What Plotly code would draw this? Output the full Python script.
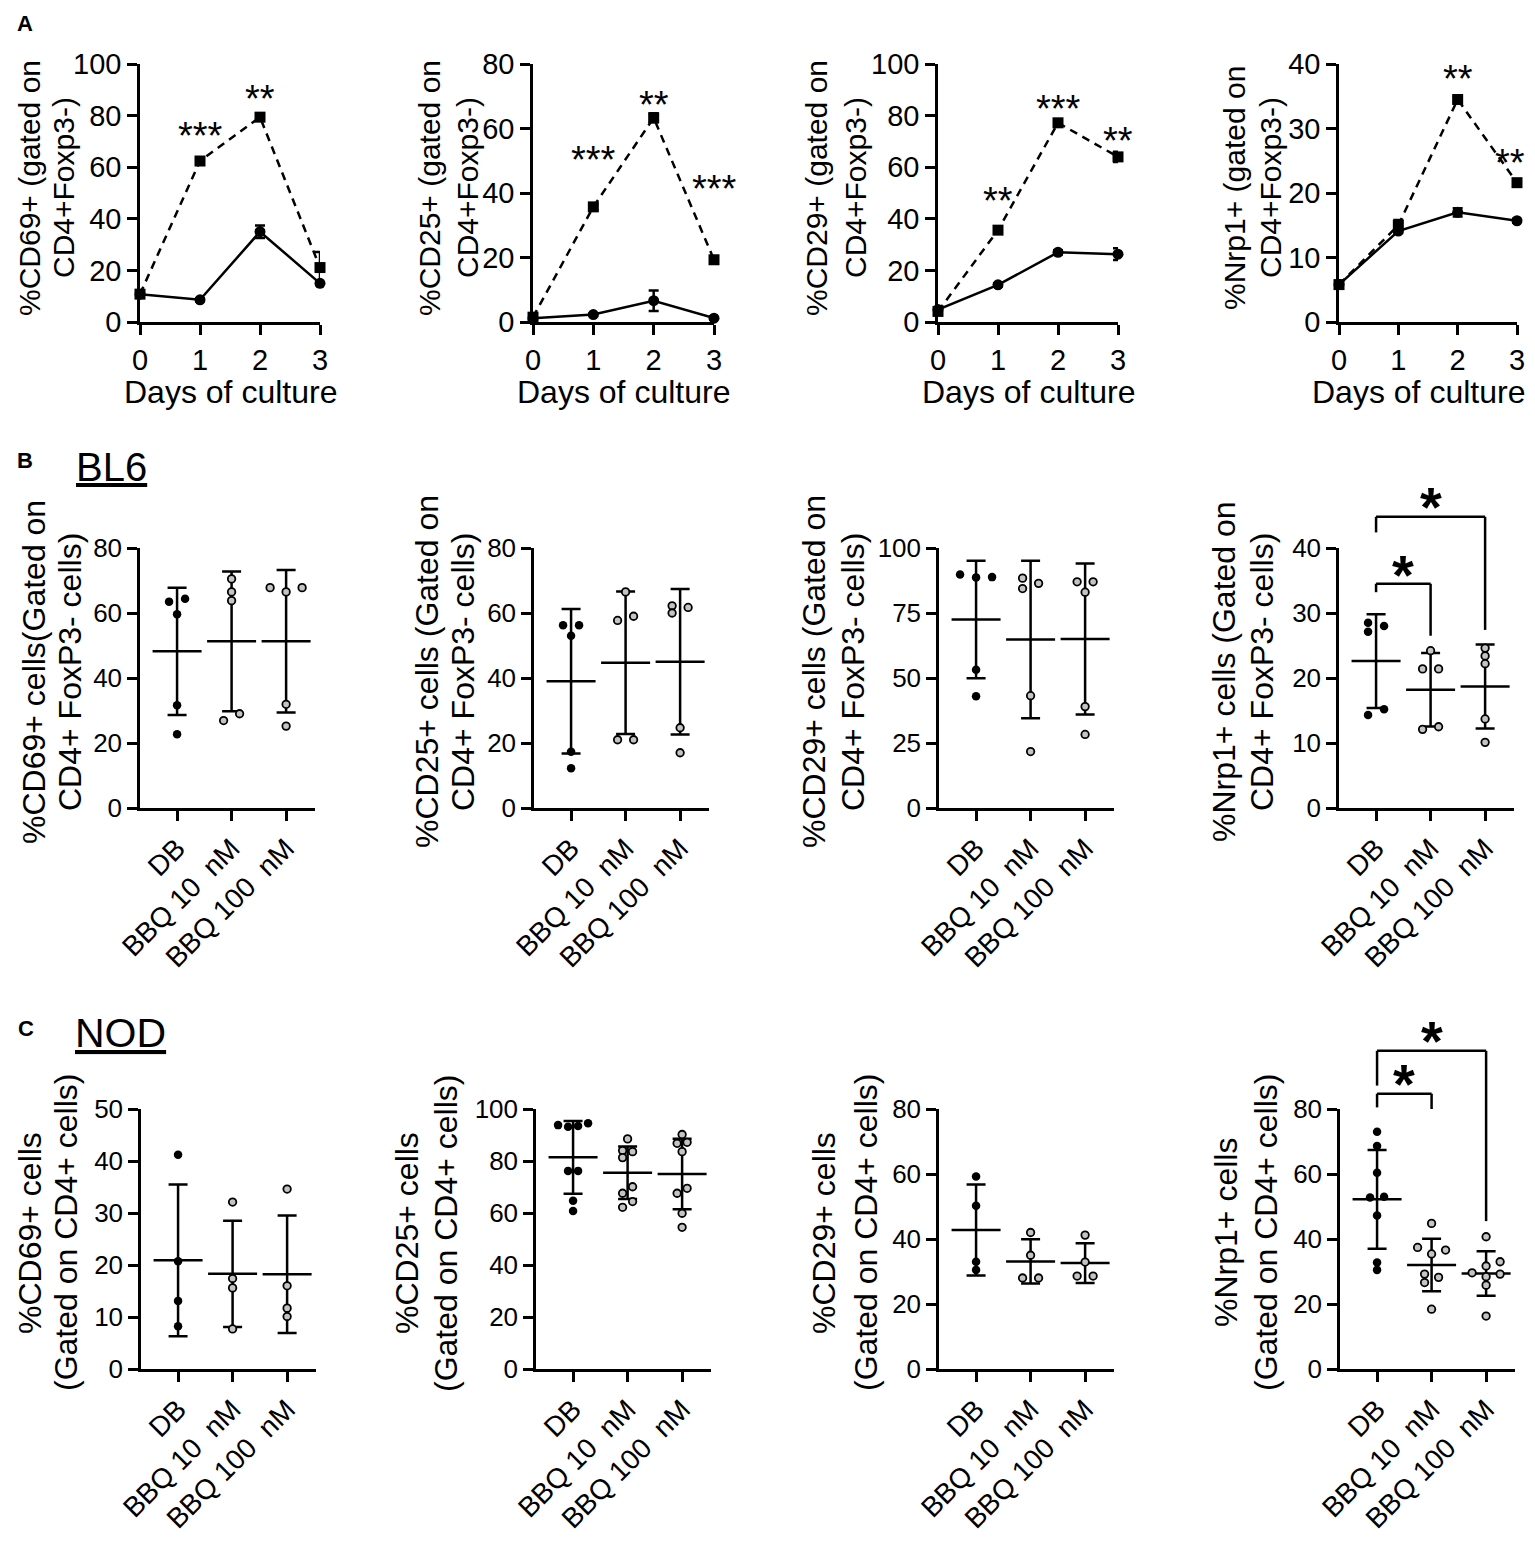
import plotly.graph_objects as go

# the page body keeps its default 8px margin, so the figure is sized to fit inside it
PAGE_W, PAGE_H, OFF = 1535, 1545, 8
W, H = PAGE_W - 2 * OFF, PAGE_H - 2 * OFF
RIGHT_LIMIT = PAGE_W - OFF - 2
FONT = "Liberation Sans, Arial, Helvetica, sans-serif"
INK = "black"

# ---------------- panel A: days of culture, mean +/- error ----------------
DAYS = [0, 1, 2, 3]

CD69_SOLID = [10.8, 8.6, 35.0, 15.0]
CD69_SOLID_ERR = [0.6, 0.6, 2.4, 0.8]
CD69_DASHED = [10.8, 62.4, 79.4, 21.1]
CD69_DASHED_ERR = [0.6, 0.9, 0.9, 6.0]
CD69_STARS = [(1, 75.5, "***"), (2, 90.0, "**")]

CD25_SOLID = [1.2, 2.3, 6.6, 1.2]
CD25_SOLID_ERR = [0.4, 0.4, 3.2, 0.4]
CD25_DASHED = [1.5, 35.7, 63.3, 19.3]
CD25_DASHED_ERR = [0.5, 1.0, 1.4, 0.8]
CD25_STARS = [(1, 53.0, "***"), (2, 70.0, "**"), (3, 44.0, "***")]

CD29_SOLID = [4.8, 14.4, 27.0, 26.3]
CD29_SOLID_ERR = [0.6, 0.6, 0.8, 2.3]
CD29_DASHED = [4.1, 35.6, 77.2, 64.0]
CD29_DASHED_ERR = [0.6, 1.2, 0.9, 2.0]
CD29_STARS = [(1, 50.5, "**"), (2, 86.0, "***"), (3, 73.6, "**")]

NRP1_SOLID = [5.8, 14.1, 17.0, 15.7]
NRP1_SOLID_ERR = [0.3, 0.3, 0.65, 0.3]
NRP1_DASHED = [5.8, 15.0, 34.5, 21.6]
NRP1_DASHED_ERR = [0.3, 0.8, 0.4, 0.3]
NRP1_STARS = [(2, 39.0, "**"), (3, 26.0, "**")]

A_TITLES = [
    ("%CD69+ (gated on", "CD4+Foxp3-)"),
    ("%CD25+ (gated on", "CD4+Foxp3-)"),
    ("%CD29+ (gated on", "CD4+Foxp3-)"),
    ("%Nrp1+ (gated on", "CD4+Foxp3-)"),
]
A_YMAX = [100, 80, 100, 40]
A_DTICK = [20, 20, 20, 10]

# ---------------- panels B (BL6) and C (NOD): scatter + mean +/- SD ----------------
GROUPS = ["DB", "BBQ 10\u00a0\u00a0nM", "BBQ 100\u00a0\u00a0nM"]

BL6_CD69 = [[64.4, 63.5, 59.6, 31.6, 22.7], [70.5, 66.5, 63.8, 29.0, 26.9], [67.8, 66.5, 67.8, 31.9, 25.2]]
BL6_CD69_MEAN = [48.2, 51.3, 51.3]
BL6_CD69_SD = [19.6, 21.5, 21.9]

BL6_CD25 = [[56.2, 56.2, 53.0, 17.3, 12.2], [66.5, 59.0, 57.7, 21.0, 21.0], [62.2, 61.7, 60.0, 24.7, 17.0]]
BL6_CD25_MEAN = [39.0, 44.7, 45.0]
BL6_CD25_SD = [22.2, 21.9, 22.4]

BL6_CD29 = [[89.8, 88.8, 88.7, 53.2, 43.0], [88.4, 86.4, 84.4, 43.2, 21.7], [87.0, 87.0, 83.0, 39.0, 28.3]]
BL6_CD29_MEAN = [72.5, 64.8, 65.0]
BL6_CD29_SD = [22.6, 30.3, 29.0]

BL6_NRP1 = [[28.5, 28.0, 27.1, 15.2, 14.3], [24.2, 21.4, 21.4, 12.5, 12.1], [24.6, 23.4, 22.2, 13.7, 10.1]]
BL6_NRP1_MEAN = [22.6, 18.2, 18.7]
BL6_NRP1_SD = [7.2, 5.65, 6.45]
# (group a, group b, bar height, leg end at a, leg end at b, star height)
BL6_NRP1_BRACKETS = [(0, 1, 34.5, 33.2, 26.5, 38.0), (0, 2, 44.8, 42.4, 27.4, 48.4)]

NOD_CD69 = [[41.2, 20.7, 13.1, 8.2], [32.1, 17.4, 15.6, 7.7], [34.6, 16.0, 11.7, 10.1]]
NOD_CD69_MEAN = [20.9, 18.3, 18.2]
NOD_CD69_SD = [14.6, 10.2, 11.3]

NOD_CD25 = [[94.5, 93.8, 93.5, 93.2, 76.2, 76.2, 64.7, 60.8],
            [88.5, 84.0, 83.6, 81.3, 70.1, 67.6, 64.4, 62.2],
            [90.2, 87.2, 86.8, 83.6, 69.5, 67.6, 59.9, 54.5]]
NOD_CD25_MEAN = [81.4, 75.5, 75.0]
NOD_CD25_SD = [14.0, 10.1, 13.6]

NOD_CD29 = [[59.2, 50.2, 33.0, 30.5], [42.0, 35.0, 28.0, 28.0], [41.2, 32.9, 28.6, 28.6]]
NOD_CD29_MEAN = [42.8, 33.1, 32.6]
NOD_CD29_SD = [14.0, 6.8, 6.1]

NOD_NRP1 = [[73.0, 68.6, 60.4, 53.0, 52.8, 47.2, 32.8, 30.5],
            [44.8, 37.4, 36.6, 35.4, 29.2, 28.2, 26.6, 18.4],
            [40.7, 33.0, 31.7, 29.6, 29.2, 28.4, 25.8, 16.3]]
NOD_NRP1_MEAN = [52.2, 32.0, 29.4]
NOD_NRP1_SD = [15.2, 8.1, 6.85]
NOD_NRP1_BRACKETS = [(0, 1, 84.7, 80.5, 80.0, 92.0), (0, 2, 97.9, 87.2, 45.5, 105.0)]

B_TITLES = [
    ("%CD69+ cells(Gated on", "CD4+ FoxP3- cells)"),
    ("%CD25+ cells (Gated on", "CD4+ FoxP3- cells)"),
    ("%CD29+ cells (Gated on", "CD4+ FoxP3- cells)"),
    ("%Nrp1+ cells (Gated on", "CD4+ FoxP3- cells)"),
]
C_TITLES = [
    ("%CD69+ cells", "(Gated on CD4+ cells)"),
    ("%CD25+ cells", "(Gated on CD4+ cells)"),
    ("%CD29+ cells", "(Gated on CD4+ cells)"),
    ("%Nrp1+ cells", "(Gated on CD4+ cells)"),
]
B_YMAX = [80, 80, 100, 40]
B_DTICK = [20, 20, 25, 10]
C_YMAX = [50, 100, 80, 80]
C_DTICK = [10, 20, 20, 20]

# ---------------- page geometry (pixels on the page) ----------------
A_X = [(140, 320), (533, 714), (938, 1118), (1339, 1517)]
A_Y = (64, 322)
A_TITLE_X = [(29, 63), (429, 467), (816, 855), (1234, 1270)]
A_TITLE_Y = 188
B_X = [(140, 315), (534, 709), (939, 1114), (1339, 1514)]
B_Y = (548, 808)
B_TITLE_X = [(34, 70), (427, 463), (814, 853), (1224, 1262)]
B_TITLE_Y = 672
C_X = [(141, 316), (536, 711), (939, 1114), (1340, 1515)]
C_Y = (1109, 1369)
C_TITLE_X = [(30, 66), (407, 446), (824, 866), (1226, 1266)]
C_TITLE_Y = 1233
CAT_RANGE = [-0.68, 2.53]
B_STEP = [16, 16, 16, 16]
C_STEP = [16, 10, 16, 14]


def fx(px):
    return (px - OFF) / W


def fy(py):
    return 1 - (py - OFF) / H


def axid(n):
    return "" if n == 1 else str(n)


def keep_inside(center_px, width_px):
    """Horizontal shift that keeps a centred text inside the visible page."""
    return min(0.0, RIGHT_LIMIT - (center_px + width_px / 2))


def axis_style(size):
    return dict(showline=True, linecolor=INK, linewidth=2.5, ticks="outside", ticklen=10,
                tickwidth=2.5, tickcolor=INK, showgrid=False, zeroline=False, fixedrange=True,
                automargin=False, tickfont=dict(family=FONT, size=size, color=INK))


def spread(values, px_per_unit, near=7.0):
    """GraphPad-like horizontal spreading of overlapping points, in steps."""
    order = sorted(range(len(values)), key=lambda i: values[i])
    slot = {}
    cands = [0]
    for j in range(1, 8):
        cands += [j, -j]
    for i in order:
        for c in cands:
            clash = False
            for j, cj in slot.items():
                dy = (values[i] - values[j]) * px_per_unit
                if cj == c and abs(dy) < near:
                    clash = True
                    break
            if not clash:
                slot[i] = c
                break
    groups, cur = [], [order[0]]
    for a, b in zip(order, order[1:]):
        if (values[b] - values[a]) * px_per_unit < near:
            cur.append(b)
        else:
            groups.append(cur)
            cur = [b]
    groups.append(cur)
    offs = [0.0] * len(values)
    for g in groups:
        mid = (min(slot[i] for i in g) + max(slot[i] for i in g)) / 2
        for i in g:
            offs[i] = slot[i] - mid
    return offs


fig = go.Figure()
layout = {}
notes = []
shapes = []


def add_title(lines, xs, ypx, size):
    for text, xpx in zip(lines, xs):
        notes.append(dict(text=text, x=fx(xpx), y=fy(ypx), xref="paper", yref="paper",
                          textangle=-90, showarrow=False, xanchor="center", yanchor="middle",
                          font=dict(family=FONT, size=size, color=INK)))


# ---- row A
A_DATA = [
    (CD69_SOLID, CD69_SOLID_ERR, CD69_DASHED, CD69_DASHED_ERR, CD69_STARS),
    (CD25_SOLID, CD25_SOLID_ERR, CD25_DASHED, CD25_DASHED_ERR, CD25_STARS),
    (CD29_SOLID, CD29_SOLID_ERR, CD29_DASHED, CD29_DASHED_ERR, CD29_STARS),
    (NRP1_SOLID, NRP1_SOLID_ERR, NRP1_DASHED, NRP1_DASHED_ERR, NRP1_STARS),
]
STAR_A = 38
XTITLE_A = 32
for k in range(4):
    n = k + 1
    xa, ya = "x" + axid(n), "y" + axid(n)
    solid, solid_err, dashed, dashed_err, stars = A_DATA[k]
    x0, x1 = A_X[k]
    layout["xaxis" + axid(n)] = dict(domain=[fx(x0), fx(x1)], range=[0, 3], anchor=ya,
                                     tickvals=DAYS, **axis_style(29))
    layout["yaxis" + axid(n)] = dict(domain=[fy(A_Y[1]), fy(A_Y[0])], range=[0, A_YMAX[k]], anchor=xa,
                                     tick0=0, dtick=A_DTICK[k], **axis_style(29))
    for vals, err, sym, dash in [(solid, solid_err, "circle", "solid"),
                                 (dashed, dashed_err, "square", "8px,6px")]:
        fig.add_trace(go.Scatter(
            x=DAYS, y=vals, xaxis=xa, yaxis=ya, mode="lines+markers", cliponaxis=False,
            line=dict(color=INK, width=2.5, dash=dash),
            marker=dict(symbol=sym, size=11, color=INK),
            error_y=dict(type="data", array=err, color=INK, thickness=2.5, width=5)))
    for day, yv, txt in stars:
        cx = x0 + (x1 - x0) * day / 3
        notes.append(dict(text=txt, x=day, y=yv, xref=xa, yref=ya, showarrow=False,
                          xanchor="center", yanchor="middle", yshift=-9,
                          xshift=keep_inside(cx, len(txt) * 0.389 * STAR_A),
                          font=dict(family=FONT, size=STAR_A, color=INK)))
    notes.append(dict(text="Days of culture", x=0.5, xref=f"{xa} domain", y=fy(392), yref="paper",
                      showarrow=False, xanchor="center", yanchor="middle",
                      xshift=keep_inside((x0 + x1) / 2, 6.67 * XTITLE_A),
                      font=dict(family=FONT, size=XTITLE_A, color=INK)))
    add_title(A_TITLES[k], A_TITLE_X[k], A_TITLE_Y, 30)

# ---- rows B and C
ROWS = [
    (B_X, B_Y, B_TITLES, B_TITLE_X, B_TITLE_Y, B_YMAX, B_DTICK, B_STEP,
     [(BL6_CD69, BL6_CD69_MEAN, BL6_CD69_SD, []),
      (BL6_CD25, BL6_CD25_MEAN, BL6_CD25_SD, []),
      (BL6_CD29, BL6_CD29_MEAN, BL6_CD29_SD, []),
      (BL6_NRP1, BL6_NRP1_MEAN, BL6_NRP1_SD, BL6_NRP1_BRACKETS)]),
    (C_X, C_Y, C_TITLES, C_TITLE_X, C_TITLE_Y, C_YMAX, C_DTICK, C_STEP,
     [(NOD_CD69, NOD_CD69_MEAN, NOD_CD69_SD, []),
      (NOD_CD25, NOD_CD25_MEAN, NOD_CD25_SD, []),
      (NOD_CD29, NOD_CD29_MEAN, NOD_CD29_SD, []),
      (NOD_NRP1, NOD_NRP1_MEAN, NOD_NRP1_SD, NOD_NRP1_BRACKETS)]),
]
n = 4
for xs, (ytop, ybot), titles, title_xs, title_y, ymaxs, dticks, steps, panels in ROWS:
    for k, (points, means, sds, brackets) in enumerate(panels):
        n += 1
        xa, ya = "x" + axid(n), "y" + axid(n)
        x0, x1 = xs[k]
        ymax = ymaxs[k]
        layout["xaxis" + axid(n)] = dict(domain=[fx(x0), fx(x1)], range=CAT_RANGE, anchor=ya,
                                         tickvals=[0, 1, 2], ticktext=GROUPS, tickangle=-45,
                                         **axis_style(28))
        layout["yaxis" + axid(n)] = dict(domain=[fy(ybot), fy(ytop)], range=[0, ymax], anchor=xa,
                                         tick0=0, dtick=dticks[k], **axis_style(26))
        px_unit = (ybot - ytop) / ymax
        px_cat = (x1 - x0) / (CAT_RANGE[1] - CAT_RANGE[0])
        # mean line + SD
        fig.add_trace(go.Scatter(
            x=[0, 1, 2], y=means, xaxis=xa, yaxis=ya, mode="markers", cliponaxis=False,
            marker=dict(symbol="line-ew", size=35, color=INK, line=dict(color=INK, width=2.5)),
            error_y=dict(type="data", array=sds, color=INK, thickness=2.5, width=9.5)))
        # individual animals
        for g, vals in enumerate(points):
            offs = spread(vals, px_unit)
            xpos = [g + o * steps[k] / px_cat for o in offs]
            if g == 0:
                mk = dict(symbol="circle", size=8.5, color=INK, line=dict(width=0))
            else:
                mk = dict(symbol="circle", size=7.5, color="#c4c4c4", line=dict(color=INK, width=1.8))
            fig.add_trace(go.Scatter(x=xpos, y=vals, xaxis=xa, yaxis=ya, mode="markers",
                                     cliponaxis=False, marker=mk))
        # significance brackets
        yd = f"{ya} domain"
        for a, b, top, end_a, end_b, star in brackets:
            line = dict(color=INK, width=2.5)
            shapes.append(dict(type="line", xref=xa, yref=yd, x0=a, x1=b,
                               y0=top / ymax, y1=top / ymax, line=line))
            shapes.append(dict(type="line", xref=xa, yref=yd, x0=a, x1=a,
                               y0=top / ymax, y1=end_a / ymax, line=line))
            shapes.append(dict(type="line", xref=xa, yref=yd, x0=b, x1=b,
                               y0=top / ymax, y1=end_b / ymax, line=line))
            notes.append(dict(text="<b>*</b>", x=(a + b) / 2, xref=xa, y=star / ymax, yref=yd,
                              showarrow=False, xanchor="center", yanchor="middle", yshift=-13,
                              font=dict(family=FONT, size=56, color=INK)))
        add_title(titles[k], title_xs[k], title_y, 32)

# ---- panel letters and strain labels
for text, xpx, ypx, size in [("<b>A</b>", 25, 24, 22), ("<b>B</b>", 25, 460, 22),
                             ("<u>BL6</u>", 111, 467, 40), ("<b>C</b>", 26, 1028, 22),
                             ("<u>NOD</u>", 120, 1033, 41)]:
    notes.append(dict(text=text, x=fx(xpx), y=fy(ypx), xref="paper", yref="paper",
                      showarrow=False, xanchor="center", yanchor="middle",
                      font=dict(family=FONT, size=size, color=INK)))

fig.update_layout(
    width=W, height=H, margin=dict(l=0, r=0, t=0, b=0),
    paper_bgcolor="white", plot_bgcolor="white", showlegend=False,
    font=dict(family=FONT, color=INK),
    annotations=notes, shapes=shapes, **layout)

fig.write_html("out.html")
